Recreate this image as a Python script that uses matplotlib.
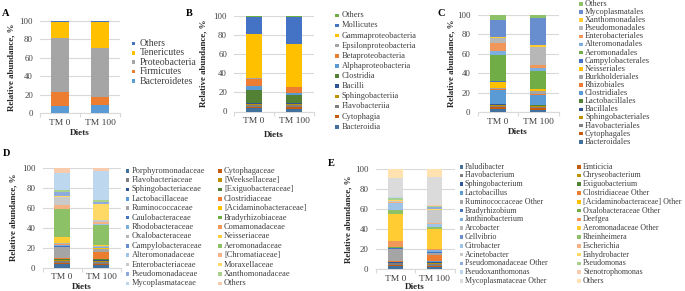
import matplotlib
matplotlib.use('Agg')
import matplotlib.pyplot as plt
from matplotlib.patches import Rectangle
import numpy as np

W, H = 685, 291
plt.rcParams['font.family'] = ['Liberation Serif', 'DejaVu Serif']

# ---------------- data ----------------
diets = ['TM 0', 'TM 100']

a_labels = ['Bacteroidetes', 'Firmicutes', 'Proteobacteria', 'Tenericutes', 'Others']
a_tm0 = [8.2, 15.1, 58.3, 17.2, 1.2]
a_tm100 = [8.7, 9.3, 52.8, 28.0, 1.2]

b_labels = ['Bacteroidia', 'Cytophagia', 'Flavobacteriia', 'Sphingobacteriia', 'Bacilli',
            'Clostridia', 'Alphaproteobacteria', 'Betaproteobacteria',
            'Epsilonproteobacteria', 'Gammaproteobacteria', 'Mollicutes', 'Others']
b_tm0 = [4.0, 1.0, 2.0, 1.0, 0.4, 14.0, 3.9, 8.0, 1.0, 45.6, 17.7, 1.4]
b_tm100 = [3.0, 1.4, 2.7, 1.1, 0.5, 8.5, 1.8, 6.2, 0.8, 44.5, 28.1, 1.4]

c_labels = ['Bacteroidales', 'Cytophagales', 'Flavobacteriales', 'Sphingobacteriales',
            'Bacillales', 'Lactobacillales', 'Clostridiales', 'Rhizobiales',
            'Burkholderiales', 'Neisseriales', 'Campylobacterales', 'Aeromonadales',
            'Alteromonadales', 'Enterobacteriales', 'Pseudomonadales',
            'Xanthomonadales', 'Mycoplasmatales', 'Others']
c_tm0 = [3.8, 1.3, 1.7, 1.1, 0.3, 0.7, 14.0, 1.4, 1.0, 6.2, 0.7, 27.0, 3.4, 8.3, 5.3, 1.5, 17.6, 4.7]
c_tm100 = [2.7, 1.4, 1.0, 1.4, 0.3, 0.4, 10.6, 0.7, 3.8, 1.3, 0.4, 18.5, 2.7, 3.1, 19.2, 1.3, 28.1, 3.1]

d_labels = ['Porphyromonadaceae', 'Cytophagaceae', 'Flavobacteriaceae', '[Weeksellaceae]',
            'Sphingobacteriaceae', '[Exiguobacteraceae]', 'Lactobacillaceae', 'Clostridiaceae',
            'Ruminococcaceae', '[Acidaminobacteraceae]', 'Caulobacteraceae', 'Bradyrhizobiaceae',
            'Rhodobacteraceae', 'Comamonadaceae', 'Oxalobacteraceae', 'Neisseriaceae',
            'Campylobacteraceae', 'Aeromonadaceae', 'Alteromonadaceae', '[Chromatiaceae]',
            'Enterobacteriaceae', 'Moraxellaceae', 'Pseudomonadaceae', 'Xanthomonadaceae',
            'Mycoplasmataceae', 'Others']
d_tm0 = [4.0, 0.7, 2.3, 0.7, 0.3, 0.3, 0.4, 0.6, 11.0, 0.7, 0.7, 0.3, 1.0, 0.7, 0.6, 6.0,
         0.7, 27.7, 0.3, 3.3, 8.0, 1.4, 4.0, 1.6, 17.7, 5.0]
d_tm100 = [2.3, 1.0, 2.7, 1.0, 0.7, 0.6, 0.4, 7.3, 2.3, 1.0, 0.4, 0.3, 0.3, 0.7, 0.3, 1.4,
           0.3, 19.3, 1.0, 2.4, 2.0, 16.0, 2.3, 1.7, 28.6, 3.7]

e_labels = ['Paludibacter', 'Emticicia', 'Flavobacterium', 'Chryseobacterium',
            'Sphingobacterium', 'Exiguobacterium', 'Lactobacillus', 'Clostridiaceae Other',
            'Ruminococcaceae Other', '[Acidaminobacteraceae] Other', 'Bradyrhizobium',
            'Oxalobacteraceae Other', 'Janthinobacterium', 'Deefgea', 'Arcobacter',
            'Aeromonadaceae Other', 'Cellvibrio', 'Rheinheimera', 'Citrobacter', 'Escherichia',
            'Acinetobacter', 'Enhydrobacter', 'Pseudomonadaceae Other', 'Pseudomonas',
            'Pseudoxanthomonas', 'Stenotrophomonas', 'Mycoplasmataceae Other', 'Others']
e_tm0 = [3.7, 1.0, 1.3, 0.7, 0.3, 0.3, 0.4, 0.6, 11.7, 0.7, 1.0, 0.3, 0.3, 6.0, 0.4, 26.6,
         0.4, 3.6, 6.7, 1.3, 1.4, 0.3, 0.7, 2.0, 0.6, 0.4, 18.6, 8.7]
e_tm100 = [2.3, 1.0, 1.7, 1.3, 0.7, 0.7, 0.3, 6.3, 1.7, 0.7, 0.3, 0.3, 1.7, 1.0, 0.3, 19.7,
           0.3, 2.4, 2.6, 0.7, 13.0, 1.7, 1.3, 1.3, 0.4, 0.3, 28.7, 7.3]

# ---------------- palette ----------------
DARK = ['#41719C', '#C55A11', '#7F7F7F', '#BF9000', '#2F5597', '#548235']
BASE = ['#5B9BD5', '#ED7D31', '#A5A5A5', '#FFC000', '#4472C4', '#70AD47']
LIGHT1 = ['#7CAFDD', '#F1975A', '#B7B7B7', '#FFCD33', '#698ED0', '#8CC168']
LIGHT2 = ['#9DC3E6', '#F4B183', '#C9C9C9', '#FFD966', '#8FAADC', '#A9D18E']
LIGHT3 = ['#BDD7EE', '#F8CBAD', '#DBDBDB', '#FFE2B0', '#B4C7E7', '#C5E0B4']


def palette(n):
    if n <= 6:
        return BASE[:n]
    return (DARK + BASE + LIGHT1 + LIGHT2 + LIGHT3)[:n]


TXT = '#404040'
GRID = '#D9D9D9'

fig = plt.figure(figsize=(W / 100, H / 100), dpi=100)


def px_axes(x0, x1, ytop, ybot):
    return fig.add_axes([x0 / W, 1 - ybot / H, (x1 - x0) / W, (ybot - ytop) / H])


def panel(letter, letter_xy, box, tm0, tm100, colors, ylab_x, xlab_y, width=0.4):
    x0, x1, ytop, ybot = box
    ax = px_axes(x0, x1, ytop, ybot)
    xs = np.arange(len(diets))
    vals = np.array([tm0, tm100]).T
    bottom = np.zeros(len(diets))
    for i, row in enumerate(vals):
        ax.bar(xs, row, width, bottom=bottom, color=colors[i], linewidth=0, zorder=3)
        bottom += row
    ax.set_xlim(-0.5, 1.5)
    ax.set_ylim(0, 100)
    ax.set_yticks([0, 20, 40, 60, 80, 100])
    ax.yaxis.grid(True, color=GRID, linewidth=0.8, zorder=0)
    for s in ['top', 'right', 'left']:
        ax.spines[s].set_visible(False)
    ax.spines['bottom'].set_color(GRID)
    ax.spines['bottom'].set_linewidth(0.8)
    ax.set_xticks(xs)
    ax.set_xticklabels(diets)
    ax.set_xticks([-0.5, 0.5, 1.5], minor=True)
    ax.tick_params(axis='x', which='major', length=0, pad=4, labelsize=6.8, labelcolor=TXT)
    ax.tick_params(axis='x', which='minor', length=3, color=GRID, width=0.8)
    ax.tick_params(axis='y', length=0, pad=5, labelsize=6.3, labelcolor=TXT)
    ax.set_ylabel('Relative abundance, %', fontsize=6.4, fontweight='bold', color='#262626')
    ax.yaxis.set_label_coords((ylab_x - x0) / (x1 - x0), 0.5)
    ax.set_xlabel('Diets', fontsize=6.6, fontweight='bold', color='#262626')
    ax.xaxis.set_label_coords(0.5, (ybot - xlab_y) / (ybot - ytop))
    ax.xaxis.label.set_va('center')
    fig.text(letter_xy[0] / W, 1 - letter_xy[1] / H, letter, fontsize=7.5,
             fontweight='bold', va='center', ha='left')
    return ax


def legend_item(x_m, y, label, color, text_x, fs):
    s = 3.6
    fig.add_artist(Rectangle(((x_m - s / 2) / W, 1 - (y + s / 2) / H), s / W, s / H,
                             transform=fig.transFigure, color=color, linewidth=0))
    fig.text(text_x / W, 1 - y / H, label, fontsize=fs, va='center', ha='left', color=TXT)


def legend_single(labels, colors, y0, y1, x_m, text_x, fs):
    n = len(labels)
    step = (y1 - y0) / (n - 1)
    for k, idx in enumerate(range(n - 1, -1, -1)):
        legend_item(x_m, y0 + k * step, labels[idx], colors[idx], text_x, fs)


def legend_double(labels, colors, y0, y1, xm1, tx1, xm2, tx2, fs):
    n = len(labels)
    rows = (n + 1) // 2
    step = (y1 - y0) / (rows - 1)
    for i, lab in enumerate(labels):
        r, c = divmod(i, 2)
        y = y0 + r * step
        if c == 0:
            legend_item(xm1, y, lab, colors[i], tx1, fs)
        else:
            legend_item(xm2, y, lab, colors[i], tx2, fs)


# Panel A
ca = palette(len(a_labels))
panel('A', (2, 13), (40, 120, 20.7, 113.3), a_tm0, a_tm100, ca, 15, 133, width=0.45)
legend_single(a_labels, ca, 43.3, 81, 133.5, 139.5, 7)

# Panel B
cb = palette(len(b_labels))
panel('B', (186, 14), (234, 314, 15.7, 111.5), b_tm0, b_tm100, cb, 207, 135, width=0.38)
legend_single(b_labels, cb, 15.3, 126.7, 337, 341.5, 6)

# Panel C
cc = palette(len(c_labels))
panel('C', (437, 13), (477.5, 558.5, 15, 112.3), c_tm0, c_tm100, cc, 455, 131.5, width=0.4)
legend_single(c_labels, cc, 4, 141.7, 581, 585, 6)

# Panel D
cd = palette(len(d_labels))
panel('D', (3, 153), (42.5, 120.5, 167.7, 267.7), d_tm0, d_tm100, cd, 17, 287, width=0.41)
legend_double(d_labels, cd, 170.7, 283.3, 127.3, 131.5, 220, 224, 6)

# Panel E
ce = palette(len(e_labels))
panel('E', (328, 164), (375.5, 454.5, 169.3, 269.3), e_tm0, e_tm100, ce, 352.5, 287, width=0.39)
legend_double(e_labels, ce, 166.7, 281, 461.5, 465, 579, 583, 5.8)

fig.savefig('out.png', dpi=100)
